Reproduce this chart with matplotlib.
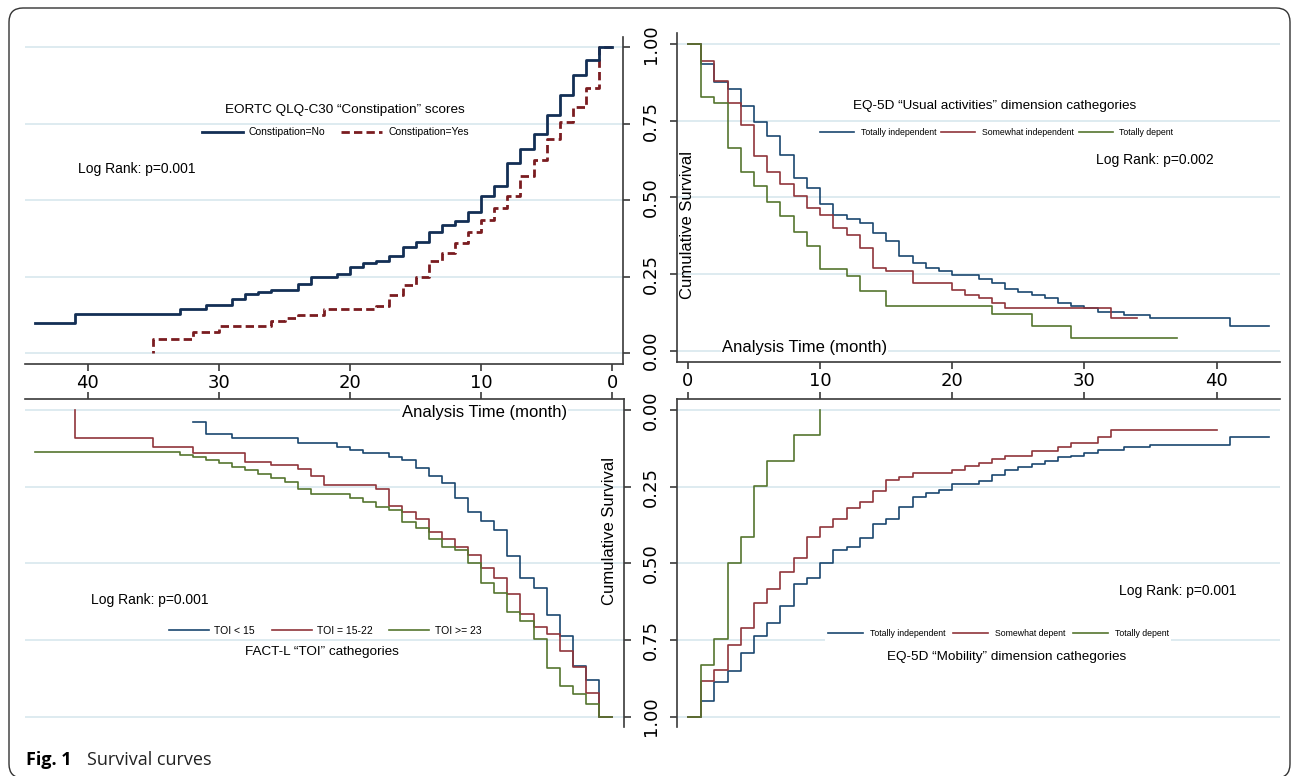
import matplotlib.pyplot as plt
from matplotlib.patches import FancyBboxPatch
from matplotlib.transforms import IdentityTransform

# ---- data (Kaplan-Meier step values) ----
# top-left: EORTC QLQ-C30 constipation
no_t = [0, 1, 2, 3, 4, 5, 6, 7, 8, 9, 10, 11, 12, 13, 14, 15, 16, 17, 18, 19, 20, 21,
        23, 24, 26, 27, 28, 29, 31, 33, 41, 44]
no_s = [1.0, 0.958, 0.909, 0.844, 0.779, 0.716, 0.669, 0.621, 0.548, 0.514, 0.461, 0.432,
        0.421, 0.395, 0.365, 0.346, 0.318, 0.303, 0.296, 0.281, 0.259, 0.248,
        0.225, 0.207, 0.199, 0.194, 0.176, 0.158, 0.144, 0.128, 0.098, 0.098]
yes_t = [0, 1, 2, 3, 4, 5, 6, 7, 8, 9, 10, 11, 12, 13, 14, 15, 16, 17, 18, 22, 24, 25, 26,
         30, 32, 35]
yes_s = [1.0, 0.866, 0.806, 0.757, 0.699, 0.632, 0.581, 0.515, 0.474, 0.436, 0.398, 0.359,
         0.329, 0.303, 0.251, 0.223, 0.191, 0.153, 0.144, 0.125, 0.114, 0.106, 0.090,
         0.071, 0.047, 0.0]

# top-right: EQ-5D usual activities
ua_ind_t = [0, 1, 2, 3, 4, 5, 6, 7, 8, 9, 10, 11, 12, 13, 14, 15, 16, 17, 18, 19, 20, 22,
            23, 24, 25, 26, 27, 28, 29, 30, 31, 33, 35, 41, 44]
ua_ind_s = [1.0, 0.935, 0.877, 0.853, 0.798, 0.747, 0.701, 0.638, 0.562, 0.532, 0.478,
            0.442, 0.429, 0.417, 0.383, 0.358, 0.309, 0.285, 0.271, 0.260, 0.247, 0.234,
            0.222, 0.201, 0.192, 0.182, 0.173, 0.154, 0.147, 0.138, 0.127, 0.116, 0.105,
            0.080, 0.080]
ua_some_t = [0, 1, 2, 3, 4, 5, 6, 7, 8, 9, 10, 11, 12, 13, 14, 15, 17, 20, 21, 22, 23, 24,
             32, 34]
ua_some_s = [1.0, 0.946, 0.880, 0.807, 0.736, 0.635, 0.584, 0.543, 0.505, 0.464, 0.442,
             0.401, 0.377, 0.334, 0.271, 0.260, 0.222, 0.198, 0.182, 0.171, 0.154, 0.140,
             0.105, 0.105]
ua_dep_t = [0, 1, 2, 3, 4, 5, 6, 7, 8, 9, 10, 12, 13, 15, 23, 26, 29, 37]
ua_dep_s = [1.0, 0.826, 0.807, 0.660, 0.584, 0.537, 0.486, 0.439, 0.388, 0.341, 0.266,
            0.243, 0.196, 0.147, 0.120, 0.080, 0.040, 0.040]

# bottom-left: FACT-L TOI
toi1_t = [0, 1, 2, 3, 4, 5, 6, 7, 8, 9, 10, 11, 12, 13, 14, 15, 16, 17, 19, 20, 21, 24,
          29, 31, 32]
toi1_s = [1.0, 0.880, 0.834, 0.736, 0.668, 0.582, 0.547, 0.476, 0.391, 0.362, 0.334, 0.286,
          0.239, 0.215, 0.188, 0.163, 0.152, 0.140, 0.130, 0.120, 0.109, 0.092, 0.079,
          0.038, 0.038]
toi2_t = [0, 1, 2, 3, 4, 5, 6, 7, 8, 9, 10, 11, 12, 13, 14, 15, 16, 17, 18, 22, 23, 24,
          26, 28, 32, 35, 41]
toi2_s = [1.0, 0.922, 0.837, 0.786, 0.732, 0.707, 0.666, 0.601, 0.547, 0.516, 0.473, 0.446,
          0.421, 0.397, 0.355, 0.334, 0.313, 0.258, 0.245, 0.215, 0.192, 0.179, 0.168,
          0.139, 0.120, 0.090, 0.0]
toi3_t = [0, 1, 2, 3, 4, 5, 6, 7, 8, 9, 10, 11, 12, 13, 14, 15, 16, 17, 18, 19, 20, 23,
          24, 25, 26, 27, 28, 29, 30, 31, 32, 33, 44]
toi3_s = [1.0, 0.960, 0.927, 0.899, 0.840, 0.748, 0.688, 0.658, 0.596, 0.565, 0.498, 0.457,
          0.446, 0.421, 0.384, 0.366, 0.326, 0.315, 0.301, 0.286, 0.274, 0.259, 0.234,
          0.221, 0.209, 0.196, 0.185, 0.174, 0.163, 0.154, 0.147, 0.138, 0.138]

# bottom-right: EQ-5D mobility
mo_ind_t = [0, 1, 2, 3, 4, 5, 6, 7, 8, 9, 10, 11, 12, 13, 14, 15, 16, 17, 18, 19, 20, 22,
            23, 24, 25, 26, 27, 28, 29, 30, 31, 33, 35, 41, 44]
mo_ind_s = [1.0, 0.948, 0.886, 0.851, 0.791, 0.736, 0.696, 0.638, 0.568, 0.547, 0.500,
            0.457, 0.446, 0.416, 0.373, 0.355, 0.315, 0.283, 0.270, 0.261, 0.242, 0.232,
            0.212, 0.196, 0.185, 0.177, 0.165, 0.154, 0.149, 0.141, 0.130, 0.120, 0.115,
            0.089, 0.089]
mo_some_t = [0, 1, 2, 3, 4, 5, 6, 7, 8, 9, 10, 11, 12, 13, 14, 15, 16, 17, 20, 21, 22, 23,
             24, 26, 28, 29, 31, 32, 40]
mo_some_s = [1.0, 0.884, 0.848, 0.768, 0.712, 0.630, 0.584, 0.527, 0.482, 0.413, 0.380,
             0.355, 0.321, 0.299, 0.264, 0.228, 0.217, 0.207, 0.196, 0.182, 0.174, 0.160,
             0.149, 0.134, 0.122, 0.107, 0.089, 0.065, 0.065]
mo_dep_t = [0, 1, 2, 3, 4, 5, 6, 8, 10]
mo_dep_s = [1.0, 0.832, 0.748, 0.500, 0.415, 0.248, 0.166, 0.082, 0.0]

x_ticks = [0, 10, 20, 30, 40]
y_ticks = [0, 0.25, 0.5, 0.75, 1.0]
y_tick_labels = ['0.00', '0.25', '0.50', '0.75', '1.00']

NAVY = '#1a476f'
MAROON = '#90353b'
GREEN = '#55752f'
NAVY_DK = '#132f55'
MAROON_DK = '#7a1c20'
GRID = '#dbe9ef'
AXC = '#3a3a3a'
TXT = 'Liberation Sans'

W, H = 1293, 776
fig = plt.figure(figsize=(W / 100, H / 100), dpi=100)


def add_ax(l, t, r, b):
    return fig.add_axes([l / W, 1 - b / H, (r - l) / W, (b - t) / H])


def style(ax, xside, yside, xlab, ylab):
    for s in ['top', 'bottom', 'left', 'right']:
        ax.spines[s].set_visible(s in (xside, yside))
        ax.spines[s].set_color(AXC)
        ax.spines[s].set_linewidth(1.2)
    ax.xaxis.set_ticks_position(xside)
    ax.yaxis.set_ticks_position(yside)
    ax.set_xticks(x_ticks)
    ax.set_yticks(y_ticks)
    ax.set_yticklabels(y_tick_labels, va='center')
    ax.tick_params(length=5, width=1.2, color=AXC, direction='out')
    ax.tick_params(axis='x', labelsize=13, pad=2)
    ax.tick_params(axis='y', labelsize=13, labelrotation=90, pad=7)
    if not xlab:
        ax.tick_params(axis='x', labelbottom=False, labeltop=False)
    if not ylab:
        ax.tick_params(axis='y', labelleft=False, labelright=False)
    ax.grid(axis='y', color=GRID, lw=1.3)
    ax.set_axisbelow(True)


def leg(ax, fx, fy, size, hl, tp, cs):
    ax.legend(ncol=3, loc='center', bbox_to_anchor=(fx, fy), frameon=True,
              facecolor='white', edgecolor='none', framealpha=1, fancybox=False,
              prop={'family': TXT, 'size': size}, handlelength=hl,
              handletextpad=tp, columnspacing=cs, borderpad=0.25, borderaxespad=0)


# ---- top-left ----
ax1 = add_ax(25, 37, 623, 364)
style(ax1, 'bottom', 'right', True, False)
ax1.set_xlim(44.8, -0.82)
ax1.set_ylim(-0.035, 1.034)
ax1.step(yes_t, yes_s, where='post', color=MAROON_DK, lw=2.0, dashes=(3.0, 1.5),
         label='Constipation=Yes')
ax1.step(no_t, no_s, where='post', color=NAVY_DK, lw=2.0, label='Constipation=No')
h, l = ax1.get_legend_handles_labels()
ax1.legend(h[::-1], l[::-1], ncol=2, loc='center', bbox_to_anchor=(0.519, 0.709),
           frameon=True, facecolor='white', edgecolor='none', framealpha=1,
           fancybox=False, prop={'family': TXT, 'size': 7.5}, handlelength=3.9,
           handletextpad=0.6, columnspacing=1.5, borderpad=0.25, borderaxespad=0)
ax1.text(0.535, 0.777, 'EORTC QLQ-C30 \u201cConstipation\u201d scores', transform=ax1.transAxes,
         ha='center', va='center', family=TXT, fontsize=9.7)
ax1.text(0.0886, 0.596, 'Log Rank: p=0.001', transform=ax1.transAxes,
         ha='left', va='center', family=TXT, fontsize=10)

# ---- top-right ----
ax2 = add_ax(677, 33, 1280, 362)
style(ax2, 'bottom', 'left', True, True)
ax2.set_xlim(-0.83, 44.8)
ax2.set_ylim(-0.037, 1.036)
ax2.step(ua_ind_t, ua_ind_s, where='post', color=NAVY, lw=1.2, label='Totally independent')
ax2.step(ua_some_t, ua_some_s, where='post', color=MAROON, lw=1.2, label='Somewhat independent')
ax2.step(ua_dep_t, ua_dep_s, where='post', color=GREEN, lw=1.2, label='Totally depent')
leg(ax2, 0.530, 0.697, 6.3, 3.9, 0.7, 0.6)
ax2.text(0.526, 0.778, 'EQ-5D \u201cUsual activities\u201d dimension cathegories',
         transform=ax2.transAxes, ha='center', va='center', family=TXT, fontsize=9.7)
ax2.text(0.695, 0.614, 'Log Rank: p=0.002', transform=ax2.transAxes,
         ha='left', va='center', family=TXT, fontsize=10)
ax2.text(0.0746, 0.0426, 'Analysis Time (month)', transform=ax2.transAxes,
         ha='left', va='center', family=TXT, fontsize=12,
         bbox=dict(facecolor='white', edgecolor='none', pad=1))
ax2.text(0.018, 0.416, 'Cumulative Survival', transform=ax2.transAxes, rotation=90,
         ha='center', va='center', family=TXT, fontsize=12)

# ---- bottom-left ----
ax3 = add_ax(25, 399, 624, 727)
style(ax3, 'top', 'right', False, False)
ax3.set_xlim(44.8, -0.9)
ax3.set_ylim(1.034, -0.036)
ax3.step(toi1_t, toi1_s, where='post', color=NAVY, lw=1.2, label='TOI < 15')
ax3.step(toi2_t, toi2_s, where='post', color=MAROON, lw=1.2, label='TOI = 15-22')
ax3.step(toi3_t, toi3_s, where='post', color=GREEN, lw=1.2, label='TOI >= 23')
leg(ax3, 0.501, 0.293, 7.5, 3.85, 0.5, 1.6)
ax3.text(0.496, 0.230, 'FACT-L \u201cTOI\u201d cathegories', transform=ax3.transAxes,
         ha='center', va='center', family=TXT, fontsize=9.7)
ax3.text(0.110, 0.387, 'Log Rank: p=0.001', transform=ax3.transAxes,
         ha='left', va='center', family=TXT, fontsize=10)
ax3.text(0.629, 0.960, 'Analysis Time (month)', transform=ax3.transAxes,
         ha='left', va='center', family=TXT, fontsize=12,
         bbox=dict(facecolor='white', edgecolor='none', pad=1))
ax3.text(0.975, 0.598, 'Cumulative Survival', transform=ax3.transAxes, rotation=90,
         ha='center', va='center', family=TXT, fontsize=12)

# ---- bottom-right ----
ax4 = add_ax(677, 399, 1280, 727)
style(ax4, 'top', 'left', False, True)
ax4.set_xlim(-0.83, 44.8)
ax4.set_ylim(1.034, -0.036)
ax4.step(mo_ind_t, mo_ind_s, where='post', color=NAVY, lw=1.2, label='Totally independent')
ax4.step(mo_some_t, mo_some_s, where='post', color=MAROON, lw=1.2, label='Somewhat depent')
ax4.step(mo_dep_t, mo_dep_s, where='post', color=GREEN, lw=1.2, label='Totally depent')
leg(ax4, 0.533, 0.284, 6.3, 4.0, 0.8, 0.9)
ax4.text(0.547, 0.214, 'EQ-5D \u201cMobility\u201d dimension cathegories', transform=ax4.transAxes,
         ha='center', va='center', family=TXT, fontsize=9.7)
ax4.text(0.733, 0.416, 'Log Rank: p=0.001', transform=ax4.transAxes,
         ha='left', va='center', family=TXT, fontsize=10)

# ---- frame and caption ----
fig.patches.append(FancyBboxPatch((9, -2), 1281, 770, boxstyle='round,pad=0,rounding_size=14',
                                  transform=IdentityTransform(), facecolor='none',
                                  edgecolor='#333333', lw=1.0))
fig.text(26 / W, 1 - 765 / H, 'Fig. 1', family='Open Sans', fontweight='bold', fontsize=13,
         va='baseline', ha='left')
fig.text(87 / W, 1 - 765 / H, 'Survival curves', family='Open Sans', fontsize=13,
         va='baseline', ha='left', color='#222222')

fig.savefig('out.png', dpi=100)
